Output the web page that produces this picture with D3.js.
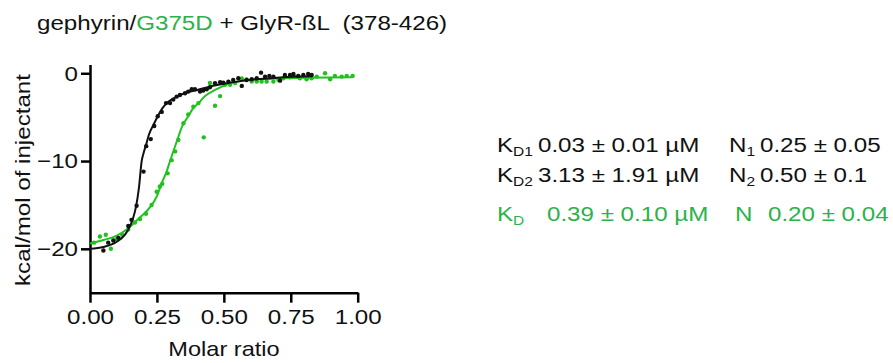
<!doctype html>
<html>
<head>
<style>
body { margin: 0; background: #fff; }
svg { font-family: "Liberation Sans", Arial, sans-serif; }
</style>
<script src="https://cdn.jsdelivr.net/npm/d3@7"></script>
</head>
<body>
<svg width="893" height="363"></svg>
<script>
// black: gephyrin wt, two-site fit
var blackX = [0.05,0.068,0.087,0.106,0.143,0.155,0.174,0.20,0.21,0.227,0.24,0.253,0.268,0.284,0.299,0.311,0.324,0.336,0.355,0.367,0.38,0.392,0.411,0.423,0.436,0.448,0.467,0.486,0.498,0.517,0.535,0.554,0.567,0.585,0.604,0.623,0.639,0.654,0.67,0.685,0.71,0.728,0.747,0.76,0.778,0.797,0.815,0.828];
var blackY = [-20.2,-19.3,-19.05,-18.75,-17.4,-16.7,-15.1,-11.2,-8.3,-7.5,-6.0,-4.9,-4.4,-3.4,-3.4,-3.0,-2.66,-2.47,-2.27,-2.09,-1.82,-1.82,-2.09,-1.97,-1.82,-1.6,-1.14,-1.02,-1.06,-0.95,-0.76,-0.57,-1.44,-0.76,-0.68,-0.57,0.07,-0.38,-0.3,-0.38,-0.84,-0.19,-0.19,-0.08,-0.3,-0.19,-0.08,-0.19];
var blackFitX = [0,0.05,0.1,0.13,0.143,0.16,0.172,0.183,0.193,0.2,0.21,0.22,0.24,0.253,0.27,0.287,0.31,0.35,0.4,0.45,0.5,0.55,0.6,0.7,0.83];
var blackFitY = [-20.0,-19.8,-19.2,-18.4,-17.8,-16.6,-15.2,-13.0,-10.0,-9.1,-8.1,-7.0,-5.7,-4.9,-4.0,-3.4,-2.9,-2.3,-1.9,-1.5,-1.2,-0.95,-0.75,-0.5,-0.35];

// green: G375D, one-site fit
var greenX = [0.015,0.037,0.059,0.078,0.10,0.12,0.143,0.168,0.187,0.209,0.23,0.249,0.261,0.27,0.29,0.305,0.318,0.33,0.349,0.367,0.386,0.405,0.425,0.448,0.467,0.486,0.504,0.523,0.542,0.567,0.585,0.604,0.623,0.641,0.66,0.685,0.704,0.722,0.747,0.766,0.784,0.809,0.828,0.847,0.878,0.897,0.915,0.94,0.959,0.981];
var greenY = [-19.3,-18.6,-18.4,-20.0,-18.9,-18.4,-17.8,-17.0,-16.6,-16.0,-15.0,-13.5,-12.9,-12.6,-11.4,-9.9,-8.9,-7.6,-5.7,-4.7,-3.8,-3.4,-7.3,-1.1,-3.7,-2.6,-1.3,-1.3,-1.1,-0.6,-0.7,-0.95,-0.95,-0.95,-0.95,-0.95,-0.76,-0.57,-0.45,-0.38,-0.57,-0.68,-0.57,-0.38,0.0,-0.68,-0.3,-0.38,-0.3,-0.3];
var greenFitX = [0,0.05,0.1,0.137,0.18,0.226,0.25,0.268,0.285,0.299,0.326,0.345,0.367,0.385,0.405,0.43,0.467,0.5,0.523,0.56,0.6,0.7,0.8,0.98];
var greenFitY = [-19.4,-19.0,-18.5,-17.8,-16.6,-15.2,-14.0,-12.5,-11.3,-10.0,-7.6,-6.0,-4.9,-4.0,-3.4,-2.6,-1.9,-1.4,-1.14,-0.9,-0.76,-0.6,-0.5,-0.45];

var xTicks = [0, 0.25, 0.5, 0.75, 1];
var yTicks = [0, -10, -20];

var green = "#1fc21f";
var textGreen = "#2bb34a";
var sx = 1.15;   // text in the figure is a bit wide

var svg = d3.select("svg");

var x = d3.scaleLinear().domain([0, 1]).range([90, 357.7]);
var y = d3.scaleLinear().domain([-25, 1]).range([292.7, 64.5]);

function label(px, py, size, anchor, rot) {
  var g = svg.append("g").attr("transform", "translate(" + px + "," + py + ")" + (rot ? " rotate(" + rot + ")" : "") + " scale(" + sx + ",1)");
  return g.append("text").attr("text-anchor", anchor || "start").style("font-size", size + "px").attr("fill", "#111");
}

// axes
var xAxis = svg.append("g")
    .attr("transform", "translate(0," + y(-25) + ")")
    .call(d3.axisBottom(x).tickValues(xTicks).tickFormat(d3.format(".2f")).tickSize(10).tickSizeOuter(0).tickPadding(6));
var yAxis = svg.append("g")
    .attr("transform", "translate(" + x(0) + ",0)")
    .call(d3.axisLeft(y).tickValues(yTicks).tickSize(9).tickSizeOuter(0).tickPadding(3));

[xAxis, yAxis].forEach(function(a) {
  a.select(".domain").attr("stroke", "#000").attr("stroke-width", 2.5);
  a.selectAll(".tick line").attr("stroke", "#000").attr("stroke-width", 2.5);
  a.selectAll(".tick text").attr("fill", "#111").style("font-size", "21px").style("font-family", "Liberation Sans, Arial, sans-serif");
});
xAxis.selectAll(".tick text").attr("transform", "scale(" + sx + ",1)");
yAxis.selectAll(".tick text").attr("x", -12 / sx).attr("transform", "scale(" + sx + ",1)");

// axis titles
label(224, 356, 20.5, "middle").text("Molar ratio");
label(30, 180, 21, "middle", -90).text("kcal/mol of injectant");

// title
var title = label(37, 30, 21);
title.append("tspan").text("gephyrin/");
title.append("tspan").attr("fill", textGreen).text("G375D");
title.append("tspan").text(" + GlyR-ßL  (378-426)").attr("xml:space", "preserve");

// fits and points
var line = d3.line()
    .x(function(d) { return x(d[0]); })
    .y(function(d) { return y(d[1]); })
    .curve(d3.curveMonotoneX);

var greenPts = d3.zip(greenX, greenY), blackPts = d3.zip(blackX, blackY);

svg.append("g").selectAll("circle").data(greenPts).enter().append("circle")
    .attr("cx", function(d) { return x(d[0]); })
    .attr("cy", function(d) { return y(d[1]); })
    .attr("r", 2.2).attr("fill", green);

svg.append("path").datum(d3.zip(greenFitX, greenFitY))
    .attr("d", line).attr("fill", "none").attr("stroke", green).attr("stroke-width", 2);

svg.append("g").selectAll("circle").data(blackPts).enter().append("circle")
    .attr("cx", function(d) { return x(d[0]); })
    .attr("cy", function(d) { return y(d[1]); })
    .attr("r", 2.2).attr("fill", "#111");

svg.append("path").datum(d3.zip(blackFitX, blackFitY))
    .attr("d", line).attr("fill", "none").attr("stroke", "#111").attr("stroke-width", 2);

// fit parameters: symbol with subscript, then value at its own x
function stat(xp, vx, yp, col, main, sub, value) {
  var t = label(xp, yp, 21).attr("fill", col);
  t.append("tspan").text(main);
  if (sub) t.append("tspan").attr("dy", 4).style("font-size", "13.5px").text(sub);
  label(vx, yp, 21).attr("fill", col).text(value);
}
stat(497, 538, 152, "#111", "K", "D1", "0.03 ± 0.01 µM");
stat(729, 760, 152, "#111", "N", "1", "0.25 ± 0.05");
stat(497, 538, 182, "#111", "K", "D2", "3.13 ± 1.91 µM");
stat(729, 760, 182, "#111", "N", "2", "0.50 ± 0.1");
stat(497, 547, 221, textGreen, "K", "D", "0.39 ± 0.10 µM");
stat(735, 768, 221, textGreen, "N", "", "0.20 ± 0.04");
</script>
</body>
</html>
